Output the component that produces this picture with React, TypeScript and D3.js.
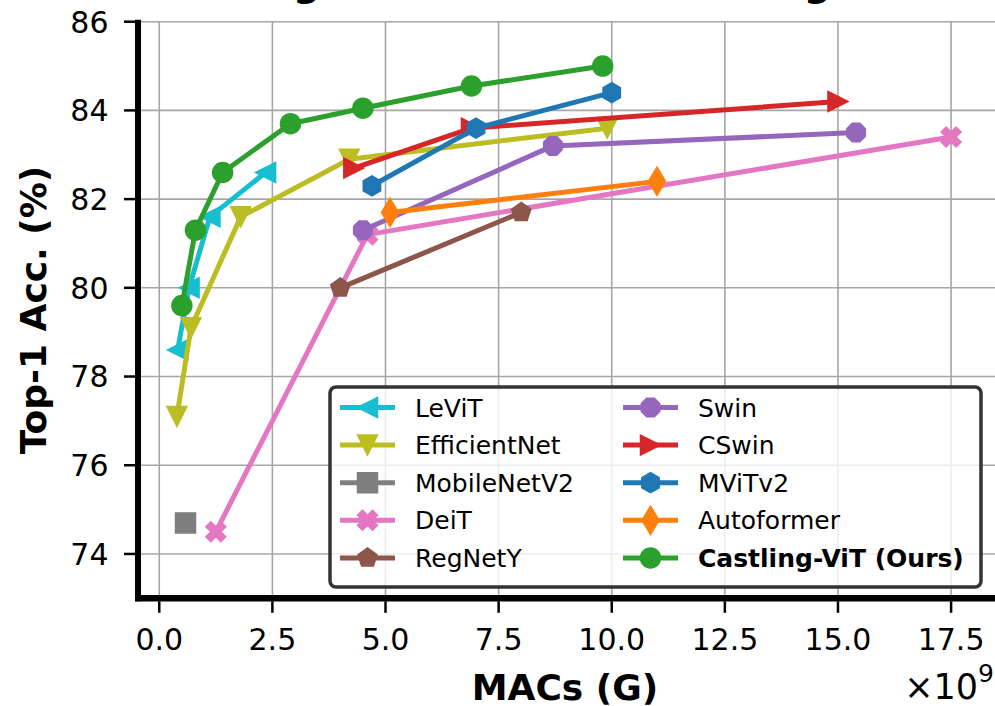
import React from 'react';
import * as d3 from 'd3';

// MACs in G (axis shows x1e9), top-1 accuracy in %
const levitMacs = [0.406, 0.658, 1.12, 2.35];
const levitAcc = [78.6, 80.0, 81.6, 82.6];
const effnetMacs = [0.39, 0.7, 1.8, 4.2, 9.9];
const effnetAcc = [77.1, 79.1, 81.6, 82.9, 83.6];
const mobilenetMacs = [0.58];
const mobilenetAcc = [74.7];
const deitMacs = [1.25, 4.6, 17.5];
const deitAcc = [74.5, 81.2, 83.4];
const regnetMacs = [4.0, 8.0];
const regnetAcc = [80.0, 81.7];
const swinMacs = [4.5, 8.7, 15.4];
const swinAcc = [81.3, 83.2, 83.5];
const cswinMacs = [4.3, 6.9, 15.0];
const cswinAcc = [82.7, 83.6, 84.2];
const mvitMacs = [4.7, 7.0, 10.0];
const mvitAcc = [82.3, 83.6, 84.4];
const autoformerMacs = [5.1, 11.0];
const autoformerAcc = [81.7, 82.4];
const castlingMacs = [0.5, 0.8, 1.4, 2.9, 4.5, 6.9, 9.8];
const castlingAcc = [79.6, 81.3, 82.6, 83.7, 84.05, 84.55, 85.0];

const xTicks = [0, 2.5, 5, 7.5, 10, 12.5, 15, 17.5];
const yTicks = [74, 76, 78, 80, 82, 84, 86];

type MarkerKind = 'triLeft' | 'triDown' | 'triRight' | 'square' | 'xFilled' | 'pentagon' | 'octagon' | 'hexagon' | 'thinDiamond' | 'circle';

interface Series {
  name: string;
  macs: number[];
  acc: number[];
  color: string;
  marker: MarkerKind;
  bold?: boolean;
}

const series: Series[] = [
  { name: 'LeViT', macs: levitMacs, acc: levitAcc, color: '#17becf', marker: 'triLeft' },
  { name: 'EfficientNet', macs: effnetMacs, acc: effnetAcc, color: '#bcbd22', marker: 'triDown' },
  { name: 'MobileNetV2', macs: mobilenetMacs, acc: mobilenetAcc, color: '#7f7f7f', marker: 'square' },
  { name: 'DeiT', macs: deitMacs, acc: deitAcc, color: '#e377c2', marker: 'xFilled' },
  { name: 'RegNetY', macs: regnetMacs, acc: regnetAcc, color: '#8c564b', marker: 'pentagon' },
  { name: 'Swin', macs: swinMacs, acc: swinAcc, color: '#9467bd', marker: 'octagon' },
  { name: 'CSwin', macs: cswinMacs, acc: cswinAcc, color: '#d62728', marker: 'triRight' },
  { name: 'MViTv2', macs: mvitMacs, acc: mvitAcc, color: '#1f77b4', marker: 'hexagon' },
  { name: 'Autoformer', macs: autoformerMacs, acc: autoformerAcc, color: '#ff7f0e', marker: 'thinDiamond' },
  { name: 'Castling-ViT (Ours)', macs: castlingMacs, acc: castlingAcc, color: '#2ca02c', marker: 'circle', bold: true },
];

const WIDTH = 995;
const HEIGHT = 706;
const FONT = '"DejaVu Sans", sans-serif';
const MS = 20;

const polygon = (n: number, r: number, startDeg: number) => {
  const pts = d3.range(n).map(i => {
    const a = ((startDeg + (i * 360) / n) * Math.PI) / 180;
    return [r * Math.sin(a), -r * Math.cos(a)];
  });
  return 'M' + pts.map(p => p.join(',')).join('L') + 'Z';
};

const fromPoints = (pts: number[][]) => 'M' + pts.map(p => p.join(',')).join('L') + 'Z';

function markerPath(kind: MarkerKind, s: number): string {
  const h = s / 2;
  switch (kind) {
    case 'triLeft':
      return fromPoints([[-h, 0], [h, -h], [h, h]]);
    case 'triRight':
      return fromPoints([[h, 0], [-h, -h], [-h, h]]);
    case 'triDown':
      return fromPoints([[0, h], [-h, -h], [h, -h]]);
    case 'square':
      return fromPoints([[-h, -h], [h, -h], [h, h], [-h, h]]);
    case 'xFilled':
      return fromPoints(
        [[-1, -2], [0, -1], [1, -2], [2, -1], [1, 0], [2, 1], [1, 2], [0, 1], [-1, 2], [-2, 1], [-1, 0], [-2, -1]]
          .map(([a, b]) => [(a / 4) * s, (b / 4) * s])
      );
    case 'pentagon':
      return polygon(5, h, 0);
    case 'hexagon':
      return polygon(6, h, 0);
    case 'octagon':
      return polygon(8, h, 22.5);
    case 'thinDiamond':
      return fromPoints([[0, -0.707 * s], [0.424 * s, 0], [0, 0.707 * s], [-0.424 * s, 0]]);
    case 'circle':
    default:
      return `M${h},0A${h},${h} 0 1,1 ${-h},0A${h},${h} 0 1,1 ${h},0Z`;
  }
}

const App: React.FC = () => {
  const x = d3.scaleLinear().domain([-0.47, 18.36]).range([138, 990]);
  const y = d3.scaleLinear().domain([73, 86]).range([598.3, 21.7]);

  const line = d3.line<[number, number]>()
    .x(d => x(d[0]))
    .y(d => y(d[1]));

  const [x0, x1] = x.range();
  const [yb, yt] = y.range();

  // legend layout
  const legend = { left: 330, top: 387, width: 651, height: 200, rowStart: 407.5, rowGap: 37.6 };
  const colX = [340, 623];

  return (
    <svg
      width={WIDTH}
      height={HEIGHT}
      style={{ position: 'absolute', left: 0, top: 0, background: '#fff' }}
      fontFamily={FONT}
    >
      {/* title (mostly above the cropped frame) */}
      <text x={573} y={-4} textAnchor="middle" fontSize={38} fontWeight="bold">
        Image Classification on ImageNet
      </text>

      {/* grid */}
      {xTicks.map(t => (
        <line key={`gx-${t}`} x1={x(t)} x2={x(t)} y1={yb} y2={yt} stroke="#a6a6a6" strokeWidth={1.6} />
      ))}
      {yTicks.map(t => (
        <line key={`gy-${t}`} x1={x0} x2={x1 + 10} y1={y(t)} y2={y(t)} stroke="#a6a6a6" strokeWidth={1.6} />
      ))}

      {/* series */}
      {series.map(s => {
        const pts = s.macs.map((m, i) => [m, s.acc[i]] as [number, number]);
        return (
          <g key={s.name}>
            {pts.length > 1 && (
              <path d={line(pts) || ''} fill="none" stroke={s.color} strokeWidth={5} strokeLinejoin="round" />
            )}
            {pts.map((p, i) => (
              <path
                key={i}
                d={markerPath(s.marker, MS)}
                transform={`translate(${x(p[0])},${y(p[1])})`}
                fill={s.color}
                stroke={s.color}
                strokeWidth={1.5}
                strokeLinejoin="miter"
              />
            ))}
          </g>
        );
      })}

      {/* spines */}
      <line x1={x0} x2={x0} y1={yt - 2} y2={yb + 3} stroke="#000" strokeWidth={6} />
      <line x1={x0 - 3} x2={WIDTH} y1={yb} y2={yb} stroke="#000" strokeWidth={6.5} />

      {/* x ticks */}
      {xTicks.map(t => (
        <g key={`xt-${t}`} transform={`translate(${x(t)},0)`}>
          <line y1={yb + 3} y2={yb + 14.5} stroke="#000" strokeWidth={2.5} />
          <text y={650} textAnchor="middle" fontSize={30}>
            {t.toFixed(1)}
          </text>
        </g>
      ))}

      {/* y ticks */}
      {yTicks.map(t => (
        <g key={`yt-${t}`} transform={`translate(0,${y(t)})`}>
          <line x1={x0 - 3} x2={x0 - 14} stroke="#000" strokeWidth={2.5} />
          <text x={108.5} y={10.9} textAnchor="end" fontSize={30}>
            {t}
          </text>
        </g>
      ))}

      {/* axis labels */}
      <text x={565} y={700} textAnchor="middle" fontSize={36} fontWeight="bold">
        MACs (G)
      </text>
      <text
        transform={`translate(46,${(yt + yb) / 2}) rotate(-90)`}
        textAnchor="middle"
        fontSize={36}
        fontWeight="bold"
      >
        Top-1 Acc. (%)
      </text>
      <text x={994} y={699} textAnchor="end" fontSize={35}>
        ×10<tspan dy={-17} fontSize={25}>9</tspan>
      </text>

      {/* legend */}
      <rect
        x={legend.left}
        y={legend.top}
        width={legend.width}
        height={legend.height}
        rx={6}
        fill="#fff"
        fillOpacity={0.8}
        stroke="#333"
        strokeWidth={3.5}
      />
      {series.map((s, i) => {
        const col = Math.floor(i / 5);
        const row = i % 5;
        const lx = colX[col];
        const ly = legend.rowStart + row * legend.rowGap;
        return (
          <g key={`lg-${s.name}`}>
            <line x1={lx} x2={lx + 55} y1={ly} y2={ly} stroke={s.color} strokeWidth={5} />
            <path
              d={markerPath(s.marker, MS)}
              transform={`translate(${lx + 27.5},${ly})`}
              fill={s.color}
              stroke={s.color}
              strokeWidth={1.5}
            />
            <text x={lx + 75} y={ly + 9} fontSize={25} fontWeight={s.bold ? 'bold' : 'normal'}>
              {s.name}
            </text>
          </g>
        );
      })}
    </svg>
  );
};

export default App;
